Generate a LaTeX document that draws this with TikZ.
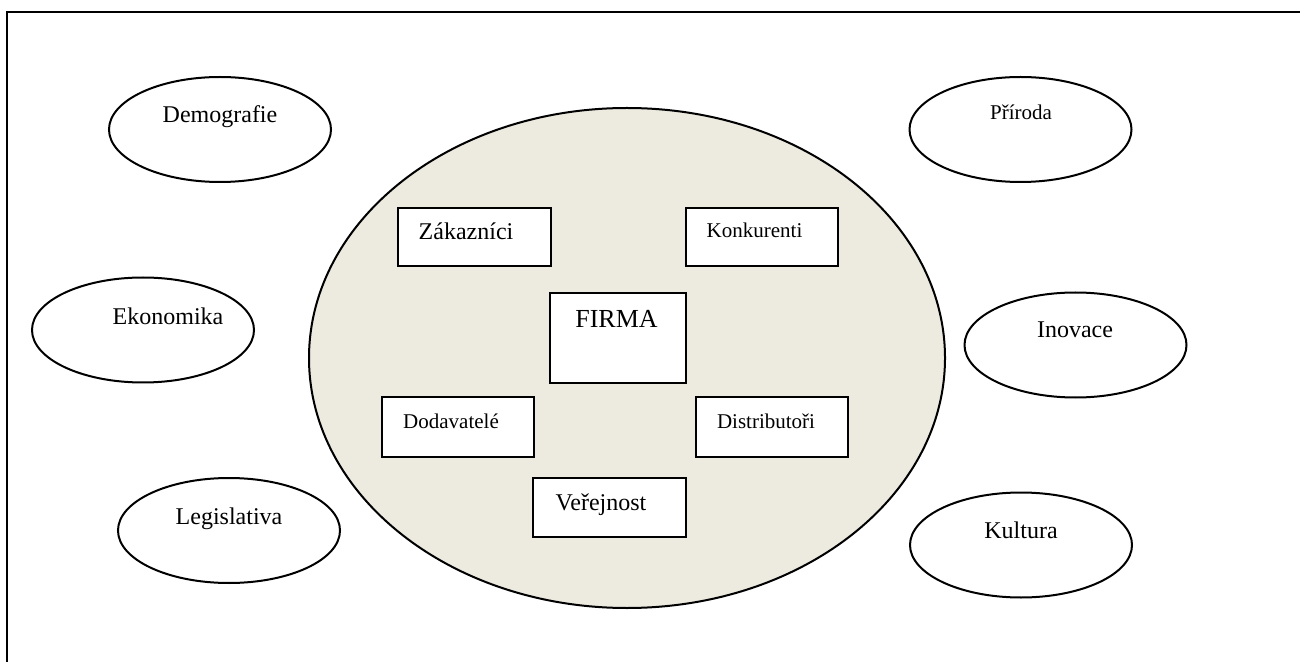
\documentclass[tikz,border=0pt]{standalone}
\usepackage{fontspec}
\setmainfont{Liberation Serif}
\usetikzlibrary{shapes.geometric}
\definecolor{envfill}{RGB}{237,234,223}
\begin{document}
\begin{tikzpicture}[x=0.5pt,y=-0.5pt,
  outer/.style={draw,ellipse,line width=1pt,minimum width=111pt,minimum height=52.5pt,inner sep=0pt},
  box/.style={draw,fill=white,rectangle,line width=1pt,inner sep=0pt},
  big/.style={font=\fontsize{12}{14}\selectfont,anchor=base,inner sep=0pt},
  small/.style={font=\fontsize{10.5}{12}\selectfont,anchor=base,inner sep=0pt},
  huge/.style={font=\fontsize{13}{15}\selectfont,anchor=base,inner sep=0pt}]
\useasboundingbox (0,0) rectangle (1300,662);
% frame
\coordinate (fTL) at (7,12);
\coordinate (fTR) at (1300,12);
\coordinate (fBL) at (7,662);
\draw[line width=1pt] (fBL) -- (fTL) -- (fTR);
% environment
\node[draw,ellipse,fill=envfill,line width=1pt,minimum width=318pt,minimum height=250pt,inner sep=0pt] (env) at (627,358) {};
% outer ellipses
\node[outer] (dem) at (220,129.5) {};
\node[big] (demT) at (220,123) {Demografie};
\node[outer] (pri) at (1020.5,129.5) {};
\node[small] (priT) at (1021,120) {Příroda};
\node[outer] (eko) at (143,330) {};
\node[big] (ekoT) at (168,325) {Ekonomika};
\node[outer] (ino) at (1075.5,345) {};
\node[big] (inoT) at (1075,338) {Inovace};
\node[outer] (leg) at (229,530.5) {};
\node[big] (legT) at (229,524) {Legislativa};
\node[outer] (kul) at (1021,545) {};
\node[big] (kulT) at (1021,538) {Kultura};
% inner boxes
\node[box,minimum width=76.5pt,minimum height=29pt] (zak) at (474.5,237) {};
\node[big] (zakT) at (466,240) {Zákazníci};
\node[box,minimum width=76pt,minimum height=29pt] (kon) at (762,237) {};
\node[small] (konT) at (754.5,238) {Konkurenti};
\node[box,minimum width=68pt,minimum height=45pt] (firma) at (618,338) {};
\node[huge] (firmaT) at (616.5,328) {FIRMA};
\node[box,minimum width=76pt,minimum height=30pt] (dod) at (458,427) {};
\node[small] (dodT) at (451,428) {Dodavatelé};
\node[box,minimum width=76pt,minimum height=30pt] (dis) at (772,427) {};
\node[small] (disT) at (766,428) {Distributoři};
\node[box,minimum width=76.5pt,minimum height=29.5pt] (ver) at (609.5,507.5) {};
\node[big] (verT) at (601,510) {Veřejnost};
\end{tikzpicture}
\end{document}
